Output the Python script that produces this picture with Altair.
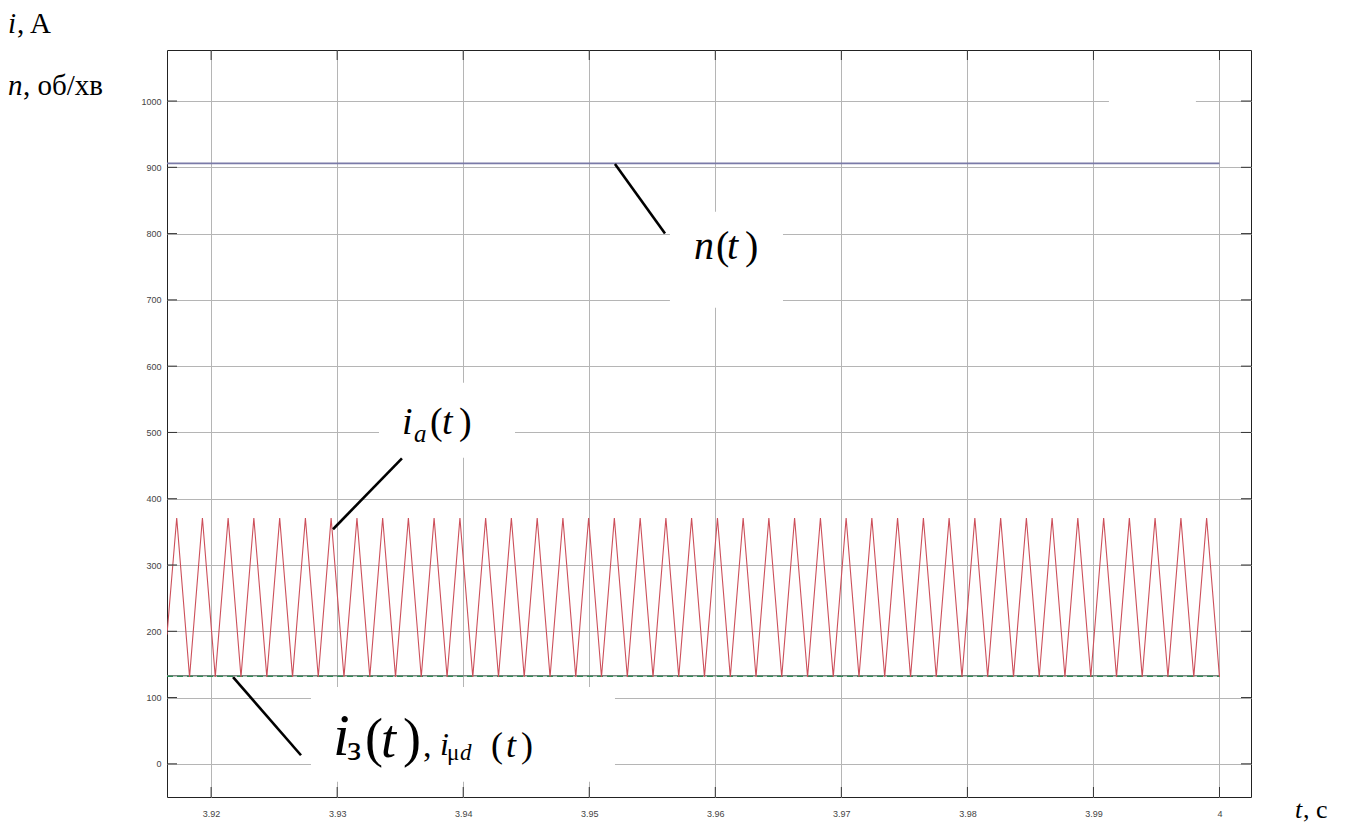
import altair as alt
import pandas as pd

# ---------------- data ----------------
x_ticks = [3.92, 3.93, 3.94, 3.95, 3.96, 3.97, 3.98, 3.99, 4.00]
y_ticks = [0, 100, 200, 300, 400, 500, 600, 700, 800, 900, 1000]

# armature current i_a(t): triangle wave vertices
ia_start_t = [3.91650]
ia_start_v = [195]
ia_peak_t = [3.91727, 3.91931, 3.92135, 3.92339, 3.92544, 3.92748, 3.92952, 3.93157,
             3.93361, 3.93565, 3.93769, 3.93974, 3.94178, 3.94382, 3.94587, 3.94791,
             3.94995, 3.95199, 3.95404, 3.95608, 3.95812, 3.96017, 3.96221, 3.96425,
             3.96629, 3.96834, 3.97038, 3.97242, 3.97446, 3.97651, 3.97855, 3.98059,
             3.98264, 3.98468, 3.98672, 3.98876, 3.99081, 3.99285, 3.99489, 3.99694,
             3.99898]
ia_trough_t = [3.91829, 3.92033, 3.92237, 3.92442, 3.92646, 3.92850, 3.93054, 3.93259,
               3.93463, 3.93667, 3.93872, 3.94076, 3.94280, 3.94484, 3.94689, 3.94893,
               3.95097, 3.95302, 3.95506, 3.95710, 3.95914, 3.96119, 3.96323, 3.96527,
               3.96732, 3.96936, 3.97140, 3.97344, 3.97549, 3.97753, 3.97957, 3.98161,
               3.98366, 3.98570, 3.98774, 3.98979, 3.99183, 3.99387, 3.99591, 3.99796,
               4.00000]
ia_peak_v = [371] * len(ia_peak_t)
ia_trough_v = [131] * len(ia_trough_t)

# speed n(t)
n_t = [3.9165, 4.0000]
n_v = [906, 906]
# excitation current i_з(t) and i_μd(t)
iz_t = [3.9165, 4.0000]
iz_v = [133, 133]
imu_t = [3.9165, 4.0000]
imu_v = [132, 132]

# ---------------- build tables ----------------
ia_t, ia_v = list(ia_start_t), list(ia_start_v)
for pt, pv, tt, tv in zip(ia_peak_t, ia_peak_v, ia_trough_t, ia_trough_v):
    ia_t += [pt, tt]
    ia_v += [pv, tv]
df_ia = pd.DataFrame({"t": ia_t, "v": ia_v})
df_n = pd.DataFrame({"t": n_t, "v": n_v})
df_iz = pd.DataFrame({"t": iz_t, "v": iz_v})
df_imu = pd.DataFrame({"t": imu_t, "v": imu_v})

W, H = 1084, 747
xs = alt.Scale(domain=[3.9165, 4.0025], nice=False, zero=False)
ys = alt.Scale(domain=[-50, 1077], nice=False, zero=False)

SERIF = "Times New Roman, Liberation Serif, serif"

x_axis = alt.Axis(values=x_ticks, format=".2~f", grid=True, ticks=False, domain=False,
                  title=None, labelPadding=12, labelFlush=False)
y_axis = alt.Axis(values=y_ticks, format="d", grid=True, ticks=False, domain=False,
                  title=None, labelPadding=6)


def X(field="t"):
    return alt.X(f"{field}:Q", scale=xs, axis=x_axis, title=None)


def Y(field="v"):
    return alt.Y(f"{field}:Q", scale=ys, axis=y_axis, title=None)


layers = []

# white patches behind annotation texts (they hide the grid)
patches = pd.DataFrame({
    "t1": [3.95640, 3.93332, 3.92792, 3.99123],
    "t2": [3.96537, 3.94411, 3.95204, 3.99813],
    "v1": [688, 462, -27, 986],
    "v2": [833, 575, 116, 1013],
})
layers.append(alt.Chart(patches).mark_rect(color="white").encode(
    x=X("t1"), x2="t2", y=Y("v1"), y2="v2"))

# data lines
layers.append(alt.Chart(df_n).mark_line(color="#7a7aa8", strokeWidth=1.8, clip=True).encode(x=X(), y=Y()))
layers.append(alt.Chart(df_iz).mark_line(color="#7a857f", strokeWidth=1.6, clip=True).encode(x=X(), y=Y()))
layers.append(alt.Chart(df_imu).mark_line(color="#2f8a56", strokeWidth=1.2, strokeDash=[6, 4], clip=True).encode(x=X(), y=Y()))
layers.append(alt.Chart(df_ia).mark_line(color="#cc4f5a", strokeWidth=1.1, clip=True).encode(x=X(), y=Y()))

# leader lines
leaders = pd.DataFrame({
    "t1": [3.95204, 3.92967, 3.92174],
    "v1": [905, 354, 131],
    "t2": [3.95601, 3.93514, 3.92713],
    "v2": [800, 461, 13],
})
layers.append(alt.Chart(leaders).mark_rule(color="black", strokeWidth=2.6).encode(
    x=X("t1"), y=Y("v1"), x2="t2", y2="v2"))

# inward ticks on all four sides
df_yt = pd.DataFrame({"v": y_ticks})
df_xt = pd.DataFrame({"t": x_ticks})
tick_color = "#333333"
layers.append(alt.Chart(df_yt).mark_rule(color=tick_color).encode(y=Y(), x=alt.value(0), x2=alt.value(10)))
layers.append(alt.Chart(df_yt).mark_rule(color=tick_color).encode(y=Y(), x=alt.value(W - 10), x2=alt.value(W)))
layers.append(alt.Chart(df_xt).mark_rule(color=tick_color).encode(x=X(), y=alt.value(H - 10), y2=alt.value(H)))
layers.append(alt.Chart(df_xt).mark_rule(color=tick_color).encode(x=X(), y=alt.value(0), y2=alt.value(10)))


def piece(t, v, text, size, italic=False):
    return alt.Chart(pd.DataFrame({"t": [t], "v": [v], "s": [text]})).mark_text(
        font=SERIF, fontSize=size, fontStyle="italic" if italic else "normal",
        align="left", baseline="alphabetic", color="black",
    ).encode(x=X(), y=Y(), text="s:N")


def pix(x, y, text, size, italic=False):
    return alt.Chart(pd.DataFrame({"s": [text]})).mark_text(
        font=SERIF, fontSize=size, fontStyle="italic" if italic else "normal",
        align="left", baseline="alphabetic", color="black",
    ).encode(x=alt.value(x), y=alt.value(y), text="s:N")


# n(t)
layers += [
    piece(3.95831, 762, "n", 40, True),
    piece(3.96005, 762, "(", 40),
    piece(3.96093, 762, "t", 40, True),
    piece(3.96236, 762, ")", 40),
]
# i_a(t)
layers += [
    piece(3.93514, 497, "i", 38, True),
    piece(3.93610, 485, "a", 25, True),
    piece(3.93737, 497, "(", 38),
    piece(3.93832, 497, "t", 38, True),
    piece(3.93967, 497, ")", 38),
]
# i_з(t), i_μd(t)
layers += [
    piece(3.92967, 13, "i", 60, True),
    piece(3.93078, 6, "з", 36),
    piece(3.93221, 12, "(", 54),
    piece(3.93348, 11, "t", 54, True),
    piece(3.93522, 12, ")", 54),
    piece(3.93681, 11, ",", 34),
    piece(3.93816, 13, "i", 32, True),
    piece(3.93871, 6, "μ", 23),
    piece(3.93975, 6, "d", 23, True),
    piece(3.94220, 11, "(", 36),
    piece(3.94339, 11, "t", 36, True),
    piece(3.94458, 11, ")", 36),
]
# axis captions outside the plot (pixel positions relative to plot area)
layers += [
    pix(-159, -17, "i", 29, True),
    pix(-150, -17, ", A", 29),
    pix(-159, 45, "n", 29, True),
    pix(-144, 45, ", об/хв", 29),
    pix(1128, 768, "t", 26, True),
    pix(1136, 768, ", с", 26),
]

chart = alt.layer(*layers).properties(
    width=W, height=H,
    autosize=alt.AutoSizeParams(type="none"),
    padding={"left": 159, "top": 42, "right": 95, "bottom": 27},
    background="white",
).configure_view(
    stroke="#222222", strokeWidth=1,
).configure_axis(
    gridColor="#b5b5b5", gridWidth=1, gridOpacity=1,
    labelFont="Liberation Sans", labelFontSize=9, labelColor="#444444",
)

chart.save("out.html", embed_options={"renderer": "svg", "actions": False})
